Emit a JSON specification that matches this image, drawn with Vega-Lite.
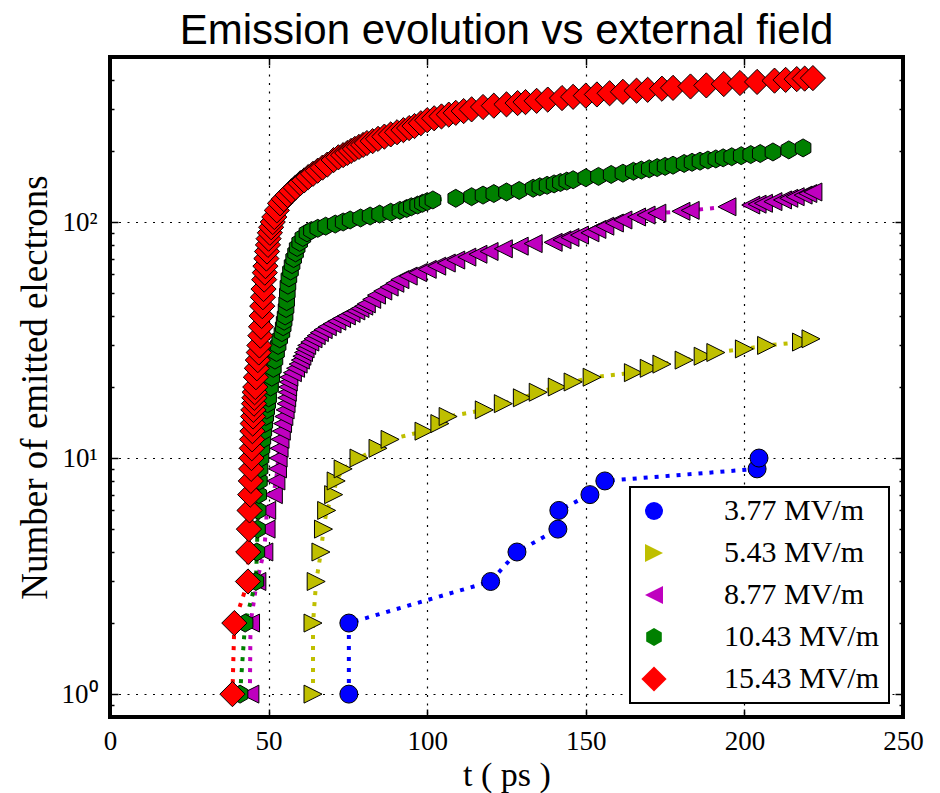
{
  "$schema": "https://vega.github.io/schema/vega-lite/v6.json",
  "width": 793,
  "height": 660,
  "autosize": {"type": "none"},
  "padding": {"left": 110, "top": 57, "right": 37, "bottom": 76},
  "background": "white",
  "title": {"text": "Emission evolution vs external field", "font": "Liberation Sans", "fontSize": 42, "fontWeight": "normal", "color": "black", "anchor": "middle", "baseline": "alphabetic", "frame": "group", "offset": -30},
  "config": {
    "view": {"stroke": "black", "strokeWidth": 4},
    "legend": {"orient": "bottom-right", "offset": 14, "fillColor": "white", "strokeColor": "black", "strokeWidth": 2, "padding": 9, "rowPadding": 12, "labelFont": "Liberation Serif", "labelFontSize": 30, "labelColor": "black", "labelOffset": 55, "symbolSize": 324, "symbolStrokeColor": "black", "symbolStrokeWidth": 1, "symbolOpacity": 1, "labelLimit": 300, "cornerRadius": 0}
  },
  "data": {"values": [
    {"series":"3.77 MV/m","t":75.3,"n":1},{"series":"3.77 MV/m","t":75.3,"n":2},{"series":"3.77 MV/m","t":120,"n":3},{"series":"3.77 MV/m","t":128.3,"n":4},{"series":"3.77 MV/m","t":141.2,"n":5},{"series":"3.77 MV/m","t":141.5,"n":6},{"series":"3.77 MV/m","t":151.3,"n":7},{"series":"3.77 MV/m","t":156,"n":8},{"series":"3.77 MV/m","t":204,"n":9},{"series":"3.77 MV/m","t":204.6,"n":10},
    {"series":"5.43 MV/m","t":64,"n":1},{"series":"5.43 MV/m","t":64,"n":2},{"series":"5.43 MV/m","t":65,"n":3},{"series":"5.43 MV/m","t":66.5,"n":4},{"series":"5.43 MV/m","t":67.3,"n":5},{"series":"5.43 MV/m","t":68.3,"n":6},{"series":"5.43 MV/m","t":70.5,"n":7},{"series":"5.43 MV/m","t":71.3,"n":8},{"series":"5.43 MV/m","t":73.5,"n":9},{"series":"5.43 MV/m","t":78.5,"n":10},{"series":"5.43 MV/m","t":84.5,"n":11},{"series":"5.43 MV/m","t":88.3,"n":12},{"series":"5.43 MV/m","t":99,"n":13},{"series":"5.43 MV/m","t":104,"n":14},{"series":"5.43 MV/m","t":106.6,"n":15},{"series":"5.43 MV/m","t":118,"n":16},{"series":"5.43 MV/m","t":124,"n":17},{"series":"5.43 MV/m","t":130,"n":18},{"series":"5.43 MV/m","t":135,"n":19},{"series":"5.43 MV/m","t":141,"n":20},{"series":"5.43 MV/m","t":146,"n":21},{"series":"5.43 MV/m","t":152,"n":22},{"series":"5.43 MV/m","t":165,"n":23},{"series":"5.43 MV/m","t":170,"n":24},{"series":"5.43 MV/m","t":174,"n":25},{"series":"5.43 MV/m","t":181,"n":26},{"series":"5.43 MV/m","t":187,"n":27},{"series":"5.43 MV/m","t":191,"n":28},{"series":"5.43 MV/m","t":200,"n":29},{"series":"5.43 MV/m","t":207,"n":30},{"series":"5.43 MV/m","t":218,"n":31},{"series":"5.43 MV/m","t":221,"n":32},
    {"series":"8.77 MV/m","t":44.1,"n":1},{"series":"8.77 MV/m","t":44.3,"n":2},{"series":"8.77 MV/m","t":46.3,"n":3},{"series":"8.77 MV/m","t":48.5,"n":4},{"series":"8.77 MV/m","t":49.2,"n":5},{"series":"8.77 MV/m","t":49.4,"n":6},{"series":"8.77 MV/m","t":51.5,"n":7},{"series":"8.77 MV/m","t":52.3,"n":8},{"series":"8.77 MV/m","t":52.8,"n":9},{"series":"8.77 MV/m","t":53,"n":10},{"series":"8.77 MV/m","t":53.3,"n":11},{"series":"8.77 MV/m","t":53.6,"n":12},{"series":"8.77 MV/m","t":54,"n":13},{"series":"8.77 MV/m","t":54.4,"n":14},{"series":"8.77 MV/m","t":54.8,"n":15},{"series":"8.77 MV/m","t":55.2,"n":16},{"series":"8.77 MV/m","t":55.5,"n":17},{"series":"8.77 MV/m","t":55.7,"n":18},{"series":"8.77 MV/m","t":55.9,"n":19},{"series":"8.77 MV/m","t":56,"n":20},{"series":"8.77 MV/m","t":56.2,"n":21},{"series":"8.77 MV/m","t":56.4,"n":22},{"series":"8.77 MV/m","t":57.5,"n":23},{"series":"8.77 MV/m","t":58.5,"n":24},{"series":"8.77 MV/m","t":59.3,"n":25},{"series":"8.77 MV/m","t":60,"n":26},{"series":"8.77 MV/m","t":60.5,"n":27},{"series":"8.77 MV/m","t":61,"n":28},{"series":"8.77 MV/m","t":61.5,"n":29},{"series":"8.77 MV/m","t":62,"n":30},{"series":"8.77 MV/m","t":63,"n":31},{"series":"8.77 MV/m","t":64,"n":32},{"series":"8.77 MV/m","t":65,"n":33},{"series":"8.77 MV/m","t":66,"n":34},{"series":"8.77 MV/m","t":67.2,"n":35},{"series":"8.77 MV/m","t":68.5,"n":36},{"series":"8.77 MV/m","t":70,"n":37},{"series":"8.77 MV/m","t":71.5,"n":38},{"series":"8.77 MV/m","t":73,"n":39},{"series":"8.77 MV/m","t":74.5,"n":40},{"series":"8.77 MV/m","t":76,"n":41},{"series":"8.77 MV/m","t":77.5,"n":42},{"series":"8.77 MV/m","t":78.8,"n":43},{"series":"8.77 MV/m","t":80,"n":44},{"series":"8.77 MV/m","t":80.8,"n":45},{"series":"8.77 MV/m","t":82.5,"n":47},{"series":"8.77 MV/m","t":84,"n":49},{"series":"8.77 MV/m","t":86,"n":51},{"series":"8.77 MV/m","t":88,"n":53},{"series":"8.77 MV/m","t":89.8,"n":55},{"series":"8.77 MV/m","t":91.4,"n":57},{"series":"8.77 MV/m","t":94,"n":59},{"series":"8.77 MV/m","t":97,"n":61},{"series":"8.77 MV/m","t":100,"n":63},{"series":"8.77 MV/m","t":103,"n":65},{"series":"8.77 MV/m","t":106,"n":67},{"series":"8.77 MV/m","t":109,"n":69},{"series":"8.77 MV/m","t":112.5,"n":71},{"series":"8.77 MV/m","t":116,"n":73},{"series":"8.77 MV/m","t":119.5,"n":75},{"series":"8.77 MV/m","t":124,"n":77},{"series":"8.77 MV/m","t":129,"n":79},{"series":"8.77 MV/m","t":133.4,"n":81},{"series":"8.77 MV/m","t":139.7,"n":82},{"series":"8.77 MV/m","t":142.5,"n":84},{"series":"8.77 MV/m","t":145,"n":86},{"series":"8.77 MV/m","t":148,"n":88},{"series":"8.77 MV/m","t":151.3,"n":90},{"series":"8.77 MV/m","t":153.5,"n":93},{"series":"8.77 MV/m","t":156,"n":96},{"series":"8.77 MV/m","t":159,"n":99},{"series":"8.77 MV/m","t":161.7,"n":102},{"series":"8.77 MV/m","t":166,"n":105},{"series":"8.77 MV/m","t":169,"n":107},{"series":"8.77 MV/m","t":172.4,"n":109},{"series":"8.77 MV/m","t":180,"n":111},{"series":"8.77 MV/m","t":182.9,"n":112},{"series":"8.77 MV/m","t":194.5,"n":116},{"series":"8.77 MV/m","t":202,"n":118},{"series":"8.77 MV/m","t":204,"n":119},{"series":"8.77 MV/m","t":206,"n":120},{"series":"8.77 MV/m","t":209,"n":122},{"series":"8.77 MV/m","t":212,"n":124},{"series":"8.77 MV/m","t":214,"n":126},{"series":"8.77 MV/m","t":216,"n":128},{"series":"8.77 MV/m","t":218.5,"n":130},{"series":"8.77 MV/m","t":220,"n":132},{"series":"8.77 MV/m","t":221.6,"n":134},
    {"series":"10.43 MV/m","t":41,"n":1},{"series":"10.43 MV/m","t":42.6,"n":2},{"series":"10.43 MV/m","t":46,"n":3},{"series":"10.43 MV/m","t":46.3,"n":4},{"series":"10.43 MV/m","t":46.5,"n":5},{"series":"10.43 MV/m","t":46.7,"n":6},{"series":"10.43 MV/m","t":46.9,"n":7},{"series":"10.43 MV/m","t":47.1,"n":8},{"series":"10.43 MV/m","t":47.3,"n":9},{"series":"10.43 MV/m","t":47.6,"n":10},{"series":"10.43 MV/m","t":47.9,"n":11},{"series":"10.43 MV/m","t":48.2,"n":12},{"series":"10.43 MV/m","t":48.5,"n":13},{"series":"10.43 MV/m","t":48.8,"n":14},{"series":"10.43 MV/m","t":49.1,"n":15},{"series":"10.43 MV/m","t":49.4,"n":16},{"series":"10.43 MV/m","t":49.7,"n":17},{"series":"10.43 MV/m","t":50,"n":18},{"series":"10.43 MV/m","t":50.6,"n":20},{"series":"10.43 MV/m","t":51,"n":22},{"series":"10.43 MV/m","t":51.5,"n":24},{"series":"10.43 MV/m","t":52,"n":26},{"series":"10.43 MV/m","t":52.5,"n":28},{"series":"10.43 MV/m","t":53,"n":30},{"series":"10.43 MV/m","t":53.5,"n":32},{"series":"10.43 MV/m","t":54.2,"n":34},{"series":"10.43 MV/m","t":54.6,"n":36},{"series":"10.43 MV/m","t":54.9,"n":38},{"series":"10.43 MV/m","t":55.2,"n":40},{"series":"10.43 MV/m","t":55.5,"n":43},{"series":"10.43 MV/m","t":55.7,"n":46},{"series":"10.43 MV/m","t":55.9,"n":50},{"series":"10.43 MV/m","t":56.1,"n":54},{"series":"10.43 MV/m","t":56.4,"n":58},{"series":"10.43 MV/m","t":56.9,"n":62},{"series":"10.43 MV/m","t":57.4,"n":66},{"series":"10.43 MV/m","t":57.9,"n":70},{"series":"10.43 MV/m","t":58.5,"n":74},{"series":"10.43 MV/m","t":59,"n":78},{"series":"10.43 MV/m","t":59.8,"n":82},{"series":"10.43 MV/m","t":60.8,"n":86},{"series":"10.43 MV/m","t":62.1,"n":90},{"series":"10.43 MV/m","t":63.5,"n":92},{"series":"10.43 MV/m","t":65.5,"n":94},{"series":"10.43 MV/m","t":68,"n":96},{"series":"10.43 MV/m","t":71,"n":98},{"series":"10.43 MV/m","t":73.5,"n":100},{"series":"10.43 MV/m","t":75.7,"n":102},{"series":"10.43 MV/m","t":79,"n":104},{"series":"10.43 MV/m","t":82,"n":106},{"series":"10.43 MV/m","t":85,"n":108},{"series":"10.43 MV/m","t":88.5,"n":110},{"series":"10.43 MV/m","t":91.4,"n":112},{"series":"10.43 MV/m","t":93.5,"n":114},{"series":"10.43 MV/m","t":95,"n":116},{"series":"10.43 MV/m","t":97,"n":118},{"series":"10.43 MV/m","t":98.5,"n":120},{"series":"10.43 MV/m","t":100,"n":122},{"series":"10.43 MV/m","t":101.8,"n":124},{"series":"10.43 MV/m","t":109,"n":126},{"series":"10.43 MV/m","t":114,"n":128},{"series":"10.43 MV/m","t":117.6,"n":130},{"series":"10.43 MV/m","t":121,"n":132},{"series":"10.43 MV/m","t":125,"n":134},{"series":"10.43 MV/m","t":129,"n":136},{"series":"10.43 MV/m","t":133.4,"n":139},{"series":"10.43 MV/m","t":135.5,"n":141},{"series":"10.43 MV/m","t":137.8,"n":143},{"series":"10.43 MV/m","t":140,"n":145},{"series":"10.43 MV/m","t":142,"n":147},{"series":"10.43 MV/m","t":144,"n":149},{"series":"10.43 MV/m","t":146,"n":151},{"series":"10.43 MV/m","t":150,"n":154},{"series":"10.43 MV/m","t":154,"n":156},{"series":"10.43 MV/m","t":158,"n":159},{"series":"10.43 MV/m","t":161.7,"n":161},{"series":"10.43 MV/m","t":165,"n":164},{"series":"10.43 MV/m","t":167.5,"n":166},{"series":"10.43 MV/m","t":170,"n":168},{"series":"10.43 MV/m","t":172.5,"n":170},{"series":"10.43 MV/m","t":175,"n":172},{"series":"10.43 MV/m","t":177.5,"n":174},{"series":"10.43 MV/m","t":181,"n":177},{"series":"10.43 MV/m","t":183.5,"n":179},{"series":"10.43 MV/m","t":186,"n":181},{"series":"10.43 MV/m","t":188.5,"n":183},{"series":"10.43 MV/m","t":191,"n":185},{"series":"10.43 MV/m","t":193.3,"n":187},{"series":"10.43 MV/m","t":196,"n":189},{"series":"10.43 MV/m","t":199,"n":191},{"series":"10.43 MV/m","t":202,"n":193},{"series":"10.43 MV/m","t":205,"n":195},{"series":"10.43 MV/m","t":209,"n":198},{"series":"10.43 MV/m","t":214,"n":202},{"series":"10.43 MV/m","t":218.5,"n":206},
    {"series":"15.43 MV/m","t":38.6,"n":1},{"series":"15.43 MV/m","t":39.2,"n":2},{"series":"15.43 MV/m","t":43.5,"n":3},{"series":"15.43 MV/m","t":43.6,"n":4},{"series":"15.43 MV/m","t":43.8,"n":5},{"series":"15.43 MV/m","t":44,"n":6},{"series":"15.43 MV/m","t":44.2,"n":7},{"series":"15.43 MV/m","t":44.4,"n":8},{"series":"15.43 MV/m","t":44.5,"n":9},{"series":"15.43 MV/m","t":44.6,"n":10},{"series":"15.43 MV/m","t":44.7,"n":11},{"series":"15.43 MV/m","t":44.8,"n":12},{"series":"15.43 MV/m","t":44.9,"n":13},{"series":"15.43 MV/m","t":45,"n":14},{"series":"15.43 MV/m","t":45.1,"n":15},{"series":"15.43 MV/m","t":45.2,"n":16},{"series":"15.43 MV/m","t":45.4,"n":17},{"series":"15.43 MV/m","t":45.5,"n":18},{"series":"15.43 MV/m","t":45.6,"n":19},{"series":"15.43 MV/m","t":45.8,"n":20},{"series":"15.43 MV/m","t":46,"n":22},{"series":"15.43 MV/m","t":46.3,"n":24},{"series":"15.43 MV/m","t":46.6,"n":26},{"series":"15.43 MV/m","t":46.9,"n":28},{"series":"15.43 MV/m","t":47.1,"n":30},{"series":"15.43 MV/m","t":47.4,"n":33},{"series":"15.43 MV/m","t":47.6,"n":36},{"series":"15.43 MV/m","t":47.8,"n":40},{"series":"15.43 MV/m","t":48,"n":44},{"series":"15.43 MV/m","t":48.2,"n":48},{"series":"15.43 MV/m","t":48.4,"n":52},{"series":"15.43 MV/m","t":48.6,"n":57},{"series":"15.43 MV/m","t":48.8,"n":61},{"series":"15.43 MV/m","t":49,"n":65},{"series":"15.43 MV/m","t":49.3,"n":70},{"series":"15.43 MV/m","t":49.5,"n":75},{"series":"15.43 MV/m","t":49.8,"n":80},{"series":"15.43 MV/m","t":50,"n":85},{"series":"15.43 MV/m","t":50.4,"n":90},{"series":"15.43 MV/m","t":50.8,"n":95},{"series":"15.43 MV/m","t":51.3,"n":100},{"series":"15.43 MV/m","t":51.8,"n":105},{"series":"15.43 MV/m","t":52.6,"n":112},{"series":"15.43 MV/m","t":53.6,"n":120},{"series":"15.43 MV/m","t":54.8,"n":125},{"series":"15.43 MV/m","t":56,"n":130},{"series":"15.43 MV/m","t":57.2,"n":135},{"series":"15.43 MV/m","t":58.5,"n":140},{"series":"15.43 MV/m","t":60,"n":146},{"series":"15.43 MV/m","t":61.2,"n":150},{"series":"15.43 MV/m","t":62.5,"n":155},{"series":"15.43 MV/m","t":64,"n":160},{"series":"15.43 MV/m","t":65.5,"n":165},{"series":"15.43 MV/m","t":67,"n":170},{"series":"15.43 MV/m","t":68.5,"n":175},{"series":"15.43 MV/m","t":70.5,"n":183},{"series":"15.43 MV/m","t":72,"n":188},{"series":"15.43 MV/m","t":73.5,"n":192},{"series":"15.43 MV/m","t":74.8,"n":196},{"series":"15.43 MV/m","t":76,"n":200},{"series":"15.43 MV/m","t":77.2,"n":204},{"series":"15.43 MV/m","t":78.5,"n":208},{"series":"15.43 MV/m","t":79.8,"n":212},{"series":"15.43 MV/m","t":81,"n":216},{"series":"15.43 MV/m","t":82.8,"n":220},{"series":"15.43 MV/m","t":84.5,"n":225},{"series":"15.43 MV/m","t":86.5,"n":230},{"series":"15.43 MV/m","t":88.5,"n":235},{"series":"15.43 MV/m","t":90.5,"n":240},{"series":"15.43 MV/m","t":92.5,"n":245},{"series":"15.43 MV/m","t":94.3,"n":250},{"series":"15.43 MV/m","t":96,"n":255},{"series":"15.43 MV/m","t":98,"n":262},{"series":"15.43 MV/m","t":100,"n":270},{"series":"15.43 MV/m","t":102.2,"n":275},{"series":"15.43 MV/m","t":104.5,"n":280},{"series":"15.43 MV/m","t":106.8,"n":285},{"series":"15.43 MV/m","t":109,"n":290},{"series":"15.43 MV/m","t":111.5,"n":295},{"series":"15.43 MV/m","t":114,"n":300},{"series":"15.43 MV/m","t":117.6,"n":307},{"series":"15.43 MV/m","t":121,"n":311},{"series":"15.43 MV/m","t":125,"n":315},{"series":"15.43 MV/m","t":128.5,"n":319},{"series":"15.43 MV/m","t":131,"n":322},{"series":"15.43 MV/m","t":134.5,"n":326},{"series":"15.43 MV/m","t":138,"n":330},{"series":"15.43 MV/m","t":142.5,"n":335},{"series":"15.43 MV/m","t":146,"n":339},{"series":"15.43 MV/m","t":150,"n":343},{"series":"15.43 MV/m","t":153.5,"n":347},{"series":"15.43 MV/m","t":157.5,"n":351},{"series":"15.43 MV/m","t":161.7,"n":356},{"series":"15.43 MV/m","t":166,"n":360},{"series":"15.43 MV/m","t":169.5,"n":363},{"series":"15.43 MV/m","t":174,"n":367},{"series":"15.43 MV/m","t":177.5,"n":370},{"series":"15.43 MV/m","t":183,"n":375},{"series":"15.43 MV/m","t":188,"n":379},{"series":"15.43 MV/m","t":193.5,"n":384},{"series":"15.43 MV/m","t":198.6,"n":388},{"series":"15.43 MV/m","t":204,"n":392},{"series":"15.43 MV/m","t":209.5,"n":397},{"series":"15.43 MV/m","t":213,"n":400},{"series":"15.43 MV/m","t":216.5,"n":403},{"series":"15.43 MV/m","t":219,"n":405},{"series":"15.43 MV/m","t":221.6,"n":407}
  ]},
  "resolve": {"axis": {"x": "independent", "y": "independent"}, "legend": {"color": "independent", "shape": "independent"}},
  "layer": [
    {
      "mark": {"type": "line", "strokeDash": [4, 7], "strokeWidth": 4, "strokeCap": "butt"},
      "encoding": {
        "x": {"field": "t", "type": "quantitative", "scale": {"domain": [0, 250], "nice": false, "zero": false},
          "axis": {"orient": "bottom", "title": "t ( ps )", "titleFont": "Liberation Serif", "titleFontSize": 34, "titleFontWeight": "normal", "titleColor": "black", "titlePadding": 4,
            "values": [0, 50, 100, 150, 200, 250], "labelFont": "Liberation Serif", "labelFontSize": 27, "labelColor": "black", "labelPadding": 19, "labelFlush": false,
            "tickSize": -8, "tickColor": "black", "tickWidth": 1.5, "domain": false,
            "grid": true, "gridColor": "black", "gridDash": [2, 6.5], "gridWidth": 1.2, "gridOpacity": 1}},
        "y": {"field": "n", "type": "quantitative", "scale": {"type": "log", "domain": [0.8, 500], "nice": false},
          "axis": {"orient": "left", "title": "Number of emitted electrons", "titleFont": "Liberation Serif", "titleFontSize": 37, "titleFontWeight": "normal", "titleColor": "black", "titlePadding": 7,
            "values": [0.9, 1, 2, 3, 4, 5, 6, 7, 8, 9, 10, 20, 30, 40, 50, 60, 70, 80, 90, 100, 200, 300, 400],
            "labelExpr": "datum.value == 1 ? '10⁰' : datum.value == 10 ? '10¹' : datum.value == 100 ? '10²' : ''",
            "labelFont": "Liberation Serif", "labelFontSize": 27, "labelColor": "black", "labelPadding": 21, "labelOverlap": false, "labelBound": false,
            "tickSize": {"condition": {"test": "datum.value == 1 || datum.value == 10 || datum.value == 100", "value": -8}, "value": -4},
            "tickColor": "black", "tickWidth": 1.5, "domain": false,
            "grid": true, "gridColor": "black", "gridDash": [2, 6.5], "gridWidth": 1.2,
            "gridOpacity": {"condition": {"test": "datum.value == 1 || datum.value == 10 || datum.value == 100", "value": 1}, "value": 0}}},
        "color": {"field": "series", "type": "nominal",
          "scale": {"domain": ["3.77 MV/m", "5.43 MV/m", "8.77 MV/m", "10.43 MV/m", "15.43 MV/m"], "range": ["#0000ff", "#bfbf00", "#bf00bf", "#008000", "#ff0000"]},
          "legend": null},
        "order": {"field": "n", "type": "quantitative"}
      }
    },
    {
      "mark": {"type": "point", "filled": true, "size": 324, "stroke": "black", "strokeWidth": 1, "opacity": 1},
      "encoding": {
        "x": {"field": "t", "type": "quantitative", "scale": {"domain": [0, 250], "nice": false, "zero": false},
          "axis": {"orient": "top", "title": null, "labels": false, "values": [0, 50, 100, 150, 200, 250], "tickSize": -8, "tickColor": "black", "tickWidth": 1.5, "domain": false, "grid": false}},
        "y": {"field": "n", "type": "quantitative", "scale": {"type": "log", "domain": [0.8, 500], "nice": false},
          "axis": {"orient": "right", "title": null, "labels": false,
            "values": [0.9, 1, 2, 3, 4, 5, 6, 7, 8, 9, 10, 20, 30, 40, 50, 60, 70, 80, 90, 100, 200, 300, 400],
            "tickSize": {"condition": {"test": "datum.value == 1 || datum.value == 10 || datum.value == 100", "value": -8}, "value": -4},
            "tickColor": "black", "tickWidth": 1.5, "domain": false, "grid": false}},
        "color": {"field": "series", "type": "nominal",
          "scale": {"domain": ["3.77 MV/m", "5.43 MV/m", "8.77 MV/m", "10.43 MV/m", "15.43 MV/m"], "range": ["#0000ff", "#bfbf00", "#bf00bf", "#008000", "#ff0000"]},
          "legend": {"title": null}},
        "shape": {"field": "series", "type": "nominal",
          "scale": {"domain": ["3.77 MV/m", "5.43 MV/m", "8.77 MV/m", "10.43 MV/m", "15.43 MV/m"],
            "range": ["circle", "M1,0L-1,1L-1,-1Z", "M-1,0L1,-1L1,1Z", "M0,-1L0.866,-0.5L0.866,0.5L0,1L-0.866,0.5L-0.866,-0.5Z", "M0,-1.4L1.4,0L0,1.4L-1.4,0Z"]},
          "legend": {"title": null}}
      }
    }
  ]
}
